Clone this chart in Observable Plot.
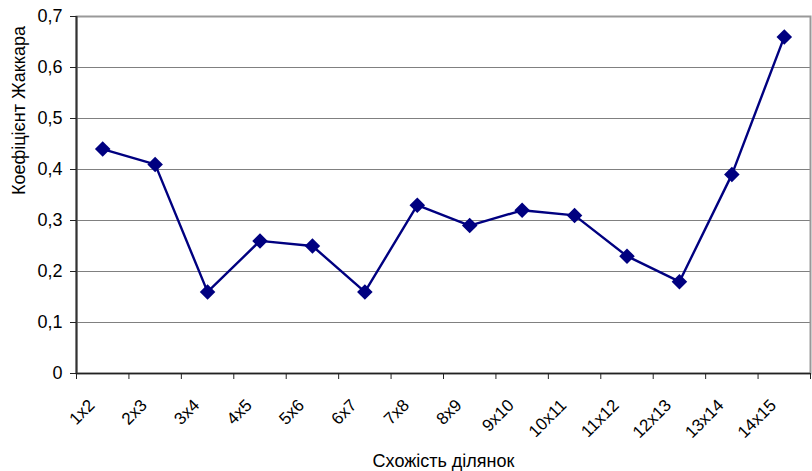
<!DOCTYPE html>
<html><head><meta charset="utf-8">
<script src="https://cdn.jsdelivr.net/npm/d3@7"></script>
<script src="https://cdn.jsdelivr.net/npm/@observablehq/plot@0.6"></script>
<style>
body{margin:0;background:#fff;font-family:"Liberation Sans",Arial,sans-serif;}
</style></head><body><div id="chart"></div>
<script>
const categories = ["1x2","2x3","3x4","4x5","5x6","6x7","7x8","8x9","9x10","10x11","11x12","12x13","13x14","14x15"];
const values = [0.44,0.41,0.16,0.26,0.25,0.16,0.33,0.29,0.32,0.31,0.23,0.18,0.39,0.66];
const yTicks = [0,0.1,0.2,0.3,0.4,0.5,0.6,0.7];
const xTitle = "Схожість ділянок";
const yTitle = "Коефіцієнт Жаккара";

const data = categories.map((c,i)=>({i, c, v: values[i]}));
const bounds = d3.range(-0.5, categories.length, 1);
const fmt = d => d === 0 ? "0" : String(d).replace(".", ",");
const FONT = '"Liberation Sans", Arial, sans-serif';

const chart = Plot.plot({
  width: 812, height: 471,
  marginLeft: 76, marginRight: 2, marginTop: 16, marginBottom: 98,
  style: {fontFamily: FONT, fontSize: "18px", color: "#000", background: "#fff"},
  x: {type: "linear", domain: [-0.5, categories.length - 0.5]},
  y: {domain: [0, 0.7]},
  marks: [
    Plot.ruleY(yTicks.slice(1), {stroke: "#808080", strokeWidth: 1, strokeOpacity: 1}),
    Plot.frame({stroke: "#999", strokeWidth: 2, strokeOpacity: 1}),
    Plot.ruleY([0], {stroke: "#222", strokeWidth: 1.5, strokeOpacity: 1}),
    Plot.ruleX([-0.5], {stroke: "#333", strokeWidth: 2, strokeOpacity: 1}),
    Plot.axisY({ticks: yTicks, tickFormat: fmt, tickSize: 6, tickPadding: 8, label: null, fontSize: 18, stroke: "#222", strokeOpacity: 1}),
    Plot.axisX({ticks: bounds, tickFormat: () => "", tickSize: 6, label: null, stroke: "#222", strokeOpacity: 1}),
    Plot.text(data, {x: "i", text: "c", frameAnchor: "bottom", dx: -11, dy: 29, rotate: -45, textAnchor: "end", lineAnchor: "middle", fontSize: 17, fill: "#000"}),
    Plot.line(data, {x: "i", y: "v", stroke: "#000080", strokeWidth: 2.4}),
    Plot.dot(data, {x: "i", y: "v", symbol: "diamond2", r: 7, fill: "#000080", stroke: "none"}),
    Plot.text([xTitle], {frameAnchor: "bottom", dy: 88, lineAnchor: "middle", fontSize: 18, fill: "#000"}),
    Plot.text([yTitle], {frameAnchor: "left", dx: -57, rotate: -90, lineAnchor: "middle", fontSize: 18, fill: "#000"})
  ]
});
document.getElementById("chart").appendChild(chart);
</script></body></html>
